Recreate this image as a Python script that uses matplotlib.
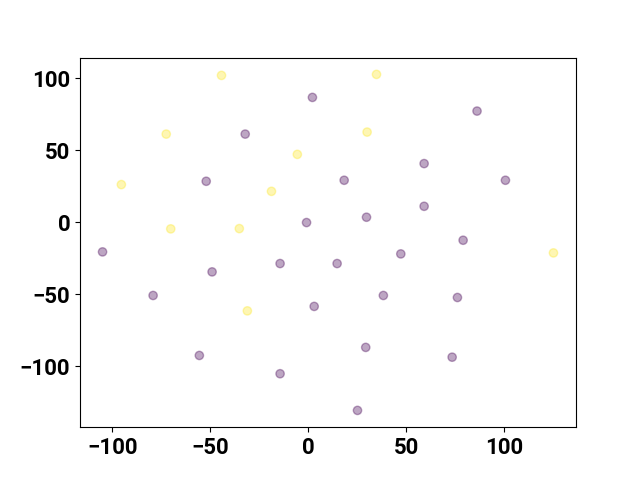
import numpy as np
import matplotlib
matplotlib.use("Agg")
import matplotlib.pyplot as plt

plt.rcParams['font.family'] = ['Roboto', 'DejaVu Sans']
plt.rcParams['font.weight'] = 'bold'
plt.rcParams['font.size'] = 16

# points (label 1 = yellow, 0 = purple)
x = [-44.2, 34.9, -72.4, 30.1, -5.5, -95.3, -18.7, -70.1, -35.1, -31.0, 125.2,
     2.2, 86.2, -32.1, 59.2, -52.0, 18.4, 100.7, 59.2, 29.8, -0.8, -104.9, 79.1,
     47.3, -14.3, 14.8, -49.0, -79.1, 38.4, 76.2, 3.1, 29.4, -55.5, 73.5,
     -14.3, 25.2]
y = [102.1, 102.8, 61.3, 62.7, 47.2, 26.2, 21.5, -4.6, -4.4, -61.6, -21.3,
     86.8, 77.3, 61.3, 40.8, 28.5, 29.2, 29.2, 11.1, 3.5, -0.2, -20.6, -12.5,
     -22.0, -28.7, -28.7, -34.5, -50.9, -50.9, -52.3, -58.5, -87.0, -92.6,
     -93.8, -105.3, -130.8]
labels = [1] * 11 + [0] * 25

fig, ax = plt.subplots(figsize=(6.4, 4.8), dpi=100)
ax.scatter(x, y, c=labels, cmap='viridis', alpha=0.35)
plt.savefig('out.png')
